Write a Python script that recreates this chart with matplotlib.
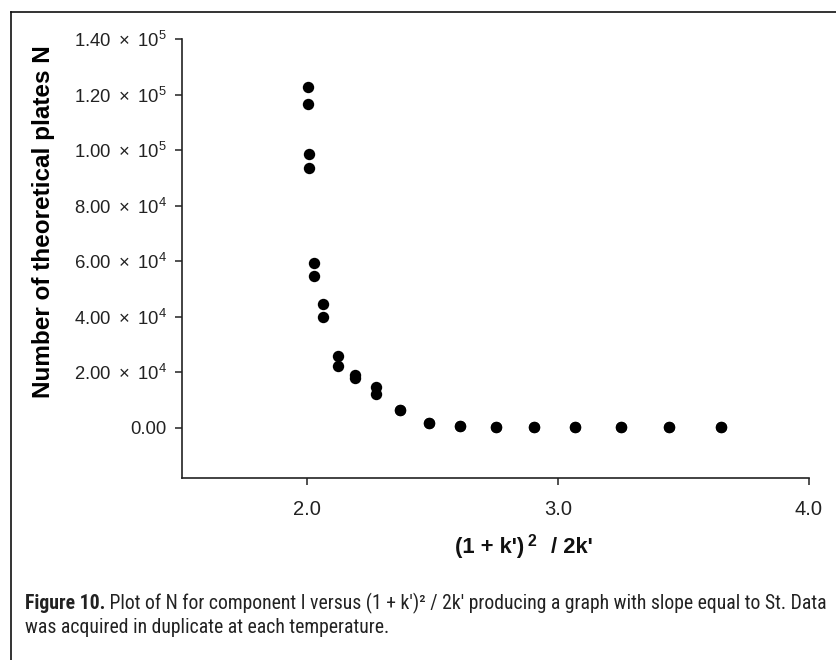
import matplotlib
matplotlib.use("Agg")
import matplotlib.pyplot as plt
from matplotlib.lines import Line2D
from matplotlib import font_manager as fm

plt.rcParams['mathtext.fontset'] = 'custom'
plt.rcParams['mathtext.rm'] = 'Liberation Sans'
plt.rcParams['mathtext.it'] = 'Liberation Sans:italic'
plt.rcParams['mathtext.bf'] = 'Liberation Sans:bold'
plt.rcParams['font.family'] = ['Liberation Sans', 'DejaVu Sans']

# Data (duplicate measurements at each temperature)
x_vals = [2.001, 2.001, 2.006, 2.006, 2.026, 2.026, 2.064, 2.064,
          2.121, 2.121, 2.189, 2.189, 2.274, 2.274, 2.371, 2.371,
          2.483, 2.483, 2.609, 2.609, 2.751, 2.751, 2.904, 2.904,
          3.066, 3.066, 3.250, 3.250, 3.440, 3.440, 3.649, 3.649]
n_vals = [122800, 116700, 98500, 93600, 59400, 54700, 44800, 39900,
          25900, 22200, 18900, 18100, 14600, 12100, 6500, 6400,
          1800, 1700, 700, 650, 300, 300, 250, 250,
          200, 200, 200, 200, 200, 200, 200, 200]

yticks = [0, 20000, 40000, 60000, 80000, 100000, 120000, 140000]
ytick_labels = ["0.00",
                r"$\mathregular{2.00\ \times\ 10^{4}}$",
                r"$\mathregular{4.00\ \times\ 10^{4}}$",
                r"$\mathregular{6.00\ \times\ 10^{4}}$",
                r"$\mathregular{8.00\ \times\ 10^{4}}$",
                r"$\mathregular{1.00\ \times\ 10^{5}}$",
                r"$\mathregular{1.20\ \times\ 10^{5}}$",
                r"$\mathregular{1.40\ \times\ 10^{5}}$"]
xticks = [2.0, 3.0, 4.0]
xtick_labels = ["2.0", "3.0", "4.0"]

xlabel_parts = ["(1 + k')", "2", "/ 2k'"]
ylabel = "Number of theoretical plates N"
caption_bold = "Figure 10."
caption_rest = " Plot of N for component I versus (1 + k')\u00b2 / 2k' producing a graph with slope equal to St. Data"
caption_line2 = "was acquired in duplicate at each temperature."

# pick a condensed family for the caption if one is installed
names = {f.name for f in fm.fontManager.ttflist}
cap_family = None
for cand in ['Liberation Sans Narrow', 'Roboto Condensed', 'Open Sans Condensed',
             'Noto Sans Condensed', 'DejaVu Sans Condensed', 'Arial Narrow']:
    if cand in names:
        cap_family = cand
        break
cap_stretch = 'normal'
if cap_family is None:
    for f in fm.fontManager.ttflist:
        st = f.stretch
        if (isinstance(st, str) and 'condensed' in st) or (isinstance(st, int) and st < 500):
            cap_family = f.name
            cap_stretch = 'condensed'
            break
if cap_family is None:
    cap_family = 'Liberation Sans'
cap_font = [cap_family, 'DejaVu Sans']

W, H = 837, 660
fig = plt.figure(figsize=(W / 100, H / 100), dpi=100)
ax = fig.add_axes([182 / W, 1 - 478 / H, (809 - 182) / W, (478 - 39) / H])

ax.plot(x_vals, n_vals, 'o', color='black', markersize=8.2, markeredgewidth=0)

ax.set_xlim(1.5, 4.0)
ax.set_ylim(-18000, 140000)
ax.set_xticks(xticks)
ax.set_xticklabels(xtick_labels)
ax.set_yticks(yticks)
ax.set_yticklabels(ytick_labels)

for s in ['top', 'right']:
    ax.spines[s].set_visible(False)
for s in ['left', 'bottom']:
    ax.spines[s].set_linewidth(1.2)
    ax.spines[s].set_color('#222222')

ax.tick_params(axis='both', direction='out', length=5, width=1.1, color='#222222',
               labelcolor='#222222')
ax.tick_params(axis='y', pad=6, labelsize=13.3)
ax.tick_params(axis='x', pad=11, labelsize=14.5)

ax.set_ylabel(ylabel, fontsize=17.5, fontweight='bold', labelpad=12)
ax.yaxis.set_label_coords(-(182 - 44) / (809 - 182), (478 - 222) / (478 - 39))
ax.yaxis.label.set_va('center')

# Outer frame (top and left lines)
fig.add_artist(Line2D([11 / W, 1.0], [1 - 12 / H, 1 - 12 / H], transform=fig.transFigure,
                      color='#111111', linewidth=1.2))
fig.add_artist(Line2D([11 / W, 11 / W], [1 - 12 / H, 0.0], transform=fig.transFigure,
                      color='#111111', linewidth=1.2))

fig.canvas.draw()
renderer = fig.canvas.get_renderer()

# x label built from pieces so the apostrophes stay plain
xl_base = 1 - 553 / H
p1 = fig.text(455 / W, xl_base, xlabel_parts[0], fontsize=15, fontweight='bold',
              color='#111111', va='baseline', ha='left')
w1 = p1.get_window_extent(renderer).width
main_size = 15 * 70 / w1
p1.set_fontsize(main_size)
p2 = fig.text(527 / W, xl_base + 7 / H, xlabel_parts[1], fontsize=main_size * 0.72,
              fontweight='bold', color='#111111', va='baseline', ha='left')
p3 = fig.text(551 / W, xl_base, xlabel_parts[2], fontsize=main_size, fontweight='bold',
              color='#111111', va='baseline', ha='left')

# caption, fitted to the reference line width
size = 13
t1 = fig.text(25 / W, 1 - 609 / H, caption_bold, fontsize=size, fontweight='bold',
              family=cap_font, stretch=cap_stretch, color='#222222', va='baseline', ha='left')
t2 = fig.text(0, 1 - 609 / H, caption_rest, fontsize=size, family=cap_font,
              stretch=cap_stretch, color='#222222', va='baseline', ha='left')
wt = t1.get_window_extent(renderer).width + t2.get_window_extent(renderer).width
size = size * 802 / wt
t1.set_fontsize(size)
t2.set_fontsize(size)
bb = t1.get_window_extent(renderer)
t2.set_position((bb.x1 / W, 1 - 609 / H))
fig.text(25 / W, 1 - 633 / H, caption_line2, fontsize=size, family=cap_font,
         stretch=cap_stretch, color='#222222', va='baseline', ha='left')

fig.savefig('out.png', dpi=100)
